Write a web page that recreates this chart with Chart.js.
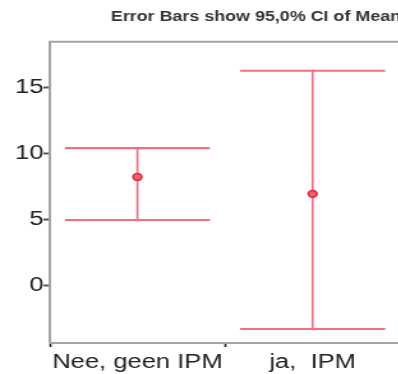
<!DOCTYPE html>
<html><head><meta charset="utf-8">
<script src="https://cdn.jsdelivr.net/npm/chart.js@4/dist/chart.umd.min.js"></script>
<style>
html,body{margin:0;padding:0;overflow:hidden;background:#fff;width:398px;height:374px}
#wrap{width:319px;height:374px;transform:scaleX(1.2771);transform-origin:0 0}
</style></head><body><div id="wrap"><canvas id="c"></canvas></div>
<script>
const categories = ['Nee, geen IPM', 'ja,  IPM'];
const means = [8.25, 6.97];
const lowerCI = [4.92, -3.33];
const upperCI = [10.49, 16.36];
const yTicks = [0, 5, 10, 15];
const titleText = 'Error Bars show 95,0% CI of Mean';

const barColor = '#ef7081';
const boxPlugin = {
  id: 'box',
  afterDraw(chart) {
    const {ctx, chartArea: a} = chart;
    ctx.save();
    ctx.strokeStyle = '#a4a4a4';
    ctx.lineWidth = 2;
    ctx.beginPath();
    ctx.moveTo(a.left, a.bottom);
    ctx.lineTo(a.left, a.top);
    ctx.lineTo(a.right + 8, a.top);
    ctx.moveTo(a.left, a.bottom);
    ctx.lineTo(a.right + 8, a.bottom);
    ctx.stroke();
    ctx.restore();
  }
};

new Chart(document.getElementById('c'), {
  data: {
    labels: categories,
    datasets: [
      {
        type: 'line', label: 'mean', data: means, showLine: false,
        pointStyle: 'circle', pointRadius: 3.4, pointBorderWidth: 1.6,
        pointBackgroundColor: '#f0606f', pointBorderColor: '#e0283e'
      },
      {
        type: 'bar', label: 'caps', data: categories.map((c, i) => [lowerCI[i], upperCI[i]]),
        grouped: false, barThickness: 114, backgroundColor: 'rgba(0,0,0,0)',
        borderColor: barColor, borderSkipped: false,
        borderWidth: { top: 1.6, bottom: 1.6, left: 0, right: 0 }
      },
      {
        type: 'bar', label: 'ci', data: categories.map((c, i) => [lowerCI[i], upperCI[i]]),
        grouped: false, barThickness: 1, backgroundColor: barColor, borderWidth: 0
      }
    ]
  },
  options: {
    responsive: true, maintainAspectRatio: false, animation: false,
    events: [],
    layout: { padding: { left: 0, top: 0, bottom: 0, right: 5 } },
    plugins: {
      legend: { display: false }, tooltip: { enabled: false },
      title: {
        display: true, text: titleText, align: 'end', color: '#333',
        font: { family: 'Liberation Sans, Arial, sans-serif', size: 14, weight: 'bold' },
        padding: { top: 9, bottom: 16 }
      }
    },
    scales: {
      x: {
        type: 'category', offset: true,
        afterFit: s => { s.height = 31; },
        grid: { display: true, drawOnChartArea: false, drawTicks: true, tickLength: 4, tickColor: '#222', tickWidth: 1.6 },
        border: { display: false },
        ticks: { color: '#222', padding: 3, maxRotation: 0, autoSkip: false,
          font: { family: 'Liberation Sans, Arial, sans-serif', size: 20 } }
      },
      y: {
        type: 'linear', min: -4.32, max: 18.48,
        afterFit: s => { s.width = 39; },
        afterBuildTicks: s => { s.ticks = yTicks.map(v => ({ value: v })); },
        grid: { display: true, drawOnChartArea: false, drawTicks: true, tickLength: 5, tickColor: '#555', tickWidth: 2 },
        border: { display: false },
        ticks: { color: '#222', padding: 0,
          font: { family: 'Liberation Sans, Arial, sans-serif', size: 20 } }
      }
    }
  },
  plugins: [boxPlugin]
});
</script></body></html>
